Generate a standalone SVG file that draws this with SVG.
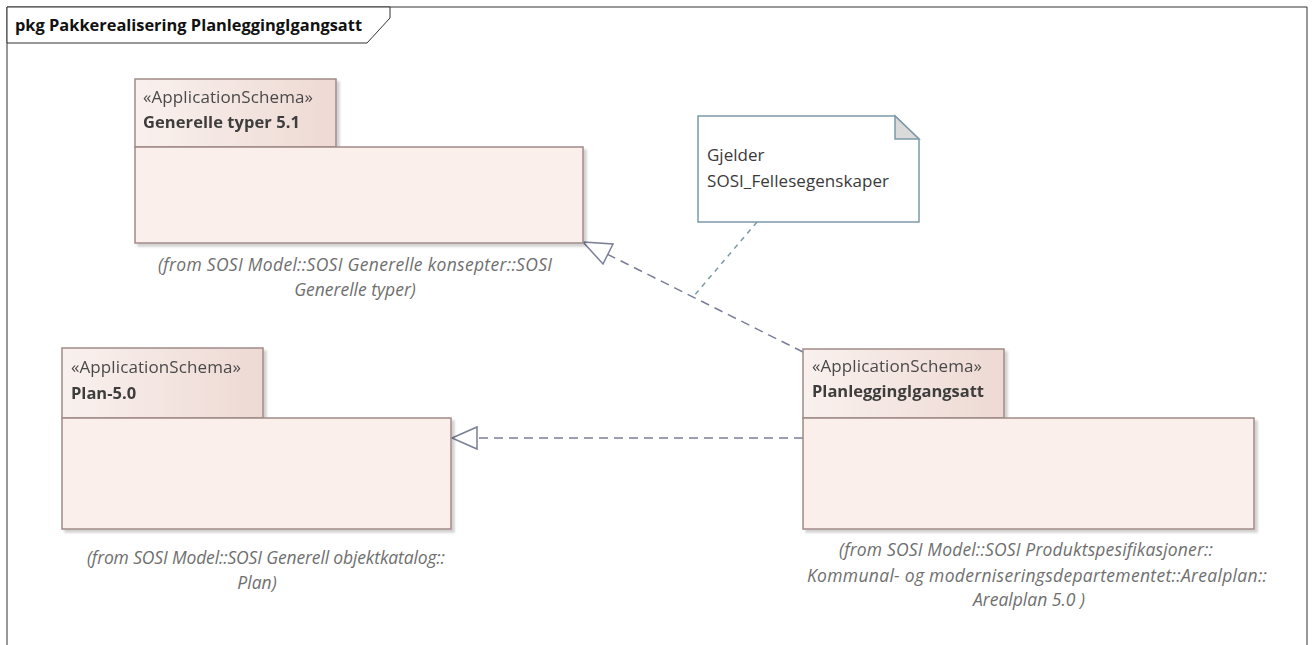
<svg xmlns="http://www.w3.org/2000/svg" width="1314" height="645" viewBox="0 0 1314 645">
<defs>
<linearGradient id="tabg" x1="0" y1="0" x2="1" y2="0">
<stop offset="0" stop-color="#f9f1ee"/>
<stop offset="1" stop-color="#eed9d3"/>
</linearGradient>
<filter id="sh" x="-5%" y="-5%" width="110%" height="115%">
<feDropShadow dx="3" dy="3" stdDeviation="1" flood-color="#000" flood-opacity="0.18"/>
</filter>
<style>
.t{font-family:"Open Sans","Noto Sans","Liberation Sans",sans-serif;}
.tab{fill:url(#tabg);stroke:#a08a88;stroke-width:1.5;}
.body{fill:#faefeb;stroke:#a08a88;stroke-width:1.5;}
.st{font-size:17px;fill:#4a4a4a;}
.nm{font-size:16.5px;font-weight:bold;fill:#3e3e3e;}
.fr{font-size:17.5px;font-style:italic;fill:#6f6f6f;text-anchor:middle;}
.nt{font-size:17px;fill:#3a3a3a;}
.real{fill:none;stroke:#7a7f98;stroke-width:1.5;stroke-dasharray:9,6;}
.head{fill:#ffffff;stroke:#7a7f98;stroke-width:1.5;}
.nl{fill:none;stroke:#7b9aa6;stroke-width:1.5;stroke-dasharray:5,5;}
</style>
</defs>
<rect width="1314" height="645" fill="#ffffff"/>
<g id="frame">
<path d="M7 645 V7 H1307 V645" fill="none" stroke="#333" stroke-width="1"/>
<path d="M7 7 H390 V18 L367 43 H7 Z" fill="#fff" stroke="#333" stroke-width="1"/>
<text class="t" x="15" y="31" font-size="16.4" font-weight="bold" fill="#111" textLength="347">pkg Pakkerealisering PlanleggingIgangsatt</text>
</g>
<g id="connectors">
<line class="real" x1="803" y1="352" x2="605" y2="253"/>
<polygon class="head" points="583,242 613,244 603,264"/>
<line class="real" x1="803" y1="438" x2="477" y2="438"/>
<polygon class="head" points="452,438 477,427 477,449"/>
<line class="nl" x1="757" y1="222" x2="693" y2="297"/>
</g>
<g id="pkg-generelle" filter="url(#sh)">
<rect class="tab" x="135" y="79" width="201" height="68"/>
<rect class="body" x="135" y="147" width="448" height="96"/>
<text class="t st" x="143" y="103" textLength="170">«ApplicationSchema»</text>
<text class="t nm" x="143" y="128" textLength="157">Generelle typer 5.1</text>
</g>
<g id="pkg-generelle-from">
<text class="t fr" x="355" y="271" textLength="394">(from SOSI Model::SOSI Generelle konsepter::SOSI</text>
<text class="t fr" x="355" y="296">Generelle typer)</text>
</g>
<g id="note">
<path d="M698 116 H895 L919 139 V222 H698 Z" fill="#ffffff" stroke="#7b9aa6" stroke-width="1.5"/>
<path d="M895 116 V139 H919 Z" fill="#dadada" stroke="#7b9aa6" stroke-width="1.5"/>
<text class="t nt" x="707" y="161">Gjelder</text>
<text class="t nt" x="707" y="187" textLength="182">SOSI_Fellesegenskaper</text>
</g>
<g id="pkg-plan" filter="url(#sh)">
<rect class="tab" x="62" y="348" width="201" height="70"/>
<rect class="body" x="62" y="418" width="389" height="111"/>
<text class="t st" x="71" y="373" textLength="170">«ApplicationSchema»</text>
<text class="t nm" x="71" y="399">Plan-5.0</text>
</g>
<g id="pkg-plan-from">
<text class="t fr" x="266" y="564" textLength="358">(from SOSI Model::SOSI Generell objektkatalog::</text>
<text class="t fr" x="257" y="589">Plan)</text>
</g>
<g id="pkg-planlegging" filter="url(#sh)">
<rect class="tab" x="803" y="349" width="201" height="69"/>
<rect class="body" x="803" y="418" width="451" height="111"/>
<text class="t st" x="812" y="372" textLength="170">«ApplicationSchema»</text>
<text class="t nm" x="812" y="397" textLength="172">PlanleggingIgangsatt</text>
</g>
<g id="pkg-planlegging-from">
<text class="t fr" x="1026" y="556" textLength="374">(from SOSI Model::SOSI Produktspesifikasjoner::</text>
<text class="t fr" x="1037" y="582" textLength="460">Kommunal- og moderniseringsdepartementet::Arealplan::</text>
<text class="t fr" x="1029" y="606">Arealplan 5.0 )</text>
</g>
</svg>
